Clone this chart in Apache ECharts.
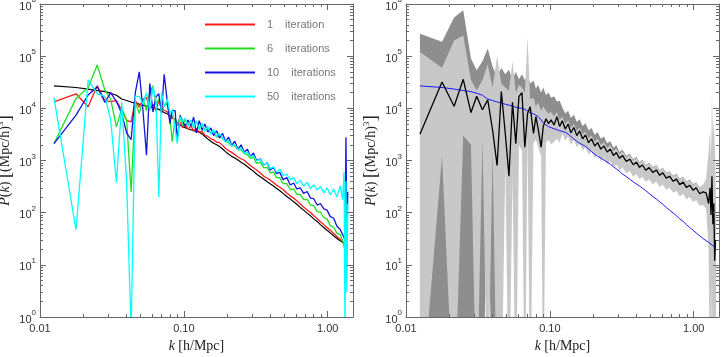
<!DOCTYPE html>
<html>
<head>
<meta charset="utf-8">
<script src="https://cdn.jsdelivr.net/npm/echarts@6/dist/echarts.min.js"></script>
<style>
  html, body { margin: 0; padding: 0; background: #fff; }
  #chart { width: 722px; height: 357px; }
</style>
</head>
<body>
<div id="chart"></div>
<script>
// k bins shared by every curve [h/Mpc]
const kBins = [0.0125, 0.0178, 0.0216, 0.025, 0.0283, 0.031, 0.034, 0.037, 0.040, 0.043,
  0.046, 0.049, 0.052, 0.055, 0.058, 0.061, 0.064, 0.067, 0.070, 0.073,
  0.077, 0.080, 0.083, 0.087, 0.090, 0.094, 0.098, 0.102, 0.107, 0.112,
  0.117, 0.122, 0.128, 0.134, 0.140, 0.147, 0.154, 0.161, 0.169, 0.177,
  0.186, 0.195, 0.205, 0.215, 0.226, 0.238, 0.25, 0.263, 0.277, 0.29,
  0.305, 0.32, 0.34, 0.36, 0.38, 0.40, 0.42, 0.44, 0.465, 0.49,
  0.52, 0.55, 0.58, 0.61, 0.645, 0.68, 0.72, 0.76, 0.80, 0.845,
  0.89, 0.94, 0.99, 1.04, 1.10, 1.16, 1.22, 1.27, 1.30, 1.32,
  1.34, 1.36, 1.38, 1.40, 1.42]

// linear theory P(k) (black on the left, blue on the right)
const linearP = [26900, 25100, 23400, 21900, 20900, 19500, 17800, 15100, 14100, 13200,
  12600, 12000, 11500, 11000, 10500, 10200, 10000, 9550, 8900, 8300,
  7800, 7400, 6900, 6000, 5250, 4800, 4470, 4270, 4070, 3890,
  3720, 3630, 3470, 3240, 2880, 2570, 2340, 2140, 2000, 1860,
  1660, 1480, 1320, 1200, 1120, 1020, 930, 850, 760, 690,
  620, 550, 490, 437, 390, 355, 324, 295, 263, 234,
  204, 182, 162, 145, 126, 112, 98, 87, 76, 68,
  59, 52, 46, 41, 36, 32, 29, 27, 26, 25,
  24, 23.4, 22.4, 21.4, 21]
const leftLinearMaxK = 1.30

const iter1 = [13300, 19000, 10700, 27000, 14000, 13500, 14000, 9300, 5900, 5500,
  14000, 10500, 15000, 16000, 9500, 12000, 9000, 14500, 10000, 9200,
  8500, 6300, 6500, 6300, 4700, 5400, 4300, 5000, 4000, 4600,
  3700, 4100, 3500, 3600, 3050, 2900, 2600, 2500, 2250, 2200,
  1950, 1700, 1550, 1430, 1300, 1170, 1080, 1010, 890, 800,
  725, 660, 575, 500, 458, 420, 380, 340, 308, 278,
  239, 210, 190, 170, 146, 128, 113, 101, 87, 77,
  67, 59, 52, 46, 40, 35, 31, 28, 25, null,
  null, null, null, null, null]

const iter6 = [2100, 15500, 25000, 68000, 22000, 15000, 4400, 10000, 6000, 250,
  13000, 8000, 15000, 9000, 20000, 27000, 12000, 15000, 9000, 11000,
  12500, 7000, 2300, 6500, 4800, 6800, 4600, 6200, 4800, 5900,
  4500, 5600, 4300, 4900, 3800, 4200, 3300, 3500, 2800, 3000,
  2600, 2300, 2200, 1900, 1900, 1600, 1600, 1350, 1300, 1100,
  1150, 880, 930, 720, 740, 580, 600, 470, 470, 360,
  360, 275, 285, 225, 225, 178, 180, 140, 136, 105,
  102, 80, 76, 57, 53, 40, 38, 29, 27, 19,
  13, 11, null, null, null]

const iter10 = [2100, 7400, 18000, 26000, 13000, 20000, 13500, 8000, 3400, 2500,
  20000, 50000, 9000, 1260, 30000, 8500, 16600, 19000, 8100, 45000,
  12300, 5100, 9100, 9000, 2500, 7400, 5800, 4500, 6000, 4600,
  6800, 3400, 5800, 3800, 5000, 3500, 4200, 3000, 3700, 2700,
  3300, 2300, 2800, 1950, 2350, 1650, 2000, 1450, 1650, 1200,
  1400, 1000, 1080, 820, 900, 660, 740, 560, 590, 430,
  470, 340, 370, 285, 300, 235, 255, 190, 185, 140,
  150, 118, 112, 85, 78, 55, 48, 38, 33, 30,
  2800, 40, 250, null, null]

const iter50 = [16000, 47, 35000, 19000, 17000, 6000, 375, 13000, 390, 0.5,
  17000, 17000, 12000, 20000, 9000, 26000, 14000, 200, 20000, 11000,
  15000, 8000, 9500, 4000, 2100, 7000, 5500, 6500, 4500, 6000,
  4200, 5800, 3900, 5200, 3600, 4500, 3200, 3900, 2900, 3300,
  2700, 2300, 2400, 1900, 2050, 1600, 1750, 1400, 1450, 1180,
  1250, 980, 1050, 820, 900, 700, 760, 600, 680, 520,
  540, 430, 470, 360, 420, 320, 380, 290, 340, 270,
  320, 240, 300, 220, 280, 200, 330, 180, 600, 0.5,
  400, 3, 150, null, null]

// right panel: mean reconstruction and the two grey ranges
const meanP = [3200, 32000, 11000, 36000, 8300, 17000, 9400, 14500, 3800, 800,
  21000, 3300, 500, 13000, 2100, 17000, 20000, 1800, 8000, 10700,
  3300, 6900, 4000, 1800, 4500, 6300, 5100, 6000, 4800, 6900,
  4500, 5800, 4000, 5000, 3400, 4300, 3000, 3700, 2600, 3100,
  2200, 2600, 1900, 2200, 1650, 1900, 1450, 1650, 1250, 1420,
  1100, 1250, 960, 1060, 830, 930, 740, 820, 650, 730,
  590, 660, 520, 580, 460, 500, 400, 440, 345, 385,
  305, 335, 270, 300, 230, 250, 240, 150, 300, 90,
  500, 60, 150, 12, 30]

const lightHi = [120000, 60000, 200000, 250000, 35000, 22000, 35000, 70000, 25000, 100000,
  30000, 25000, 22000, 80000, 20000, 28000, 25000, 20000, 230000, 15000,
  16000, 11000, 13000, 9000, 11000, 9000, 8000, 8500, 7000, 8500,
  6000, 7000, 5000, 6000, 4200, 5000, 3700, 4300, 3200, 3600,
  2700, 3000, 2300, 2600, 2000, 2250, 1750, 1950, 1500, 1700,
  1330, 1500, 1170, 1290, 1010, 1130, 900, 1000, 800, 890,
  720, 800, 640, 710, 570, 620, 500, 540, 430, 480,
  380, 420, 340, 380, 300, 330, 450, 1500, 4000, 800,
  20000, 3000, 6000, 2000, 800]

const lightLo = [0.01, 1200, 0.01, 3000, 2000, 0.01, 2500, 0.01, 1500, 0.01,
  0.01, 800, 0.01, 500, 0.01, 2000, 1500, 0.01, 3000, 0.01,
  2200, 2500, 1800, 1200, 0.01, 2200, 2500, 2000, 2300, 2600,
  2200, 3300, 2400, 2900, 2000, 2500, 1800, 2100, 1550, 1800,
  1300, 1500, 1120, 1300, 980, 1120, 860, 970, 740, 840,
  650, 740, 570, 630, 490, 550, 440, 490, 390, 430,
  350, 390, 310, 345, 275, 300, 240, 260, 205, 230,
  180, 200, 160, 175, 135, 140, 120, 20, 0.01, 5,
  0.01, 2, 0.01, 0.5, 0.01]

const darkHi = [270000, 190000, 550000, 760000, 90000, 54000, 80000, 140000, 63000, 40000,
  60000, 45000, 55000, 35000, 50000, 36000, 45000, 35000, 43000, 30000,
  34000, 24000, 28000, 20000, 25000, 18000, 20000, 16000, 17000, 13500,
  14000, 10500, 8000, 9000, 6500, 7500, 5500, 6200, 4600, 5200,
  3800, 4200, 3100, 3500, 2600, 2900, 2150, 2350, 1750, 1950,
  1450, 1600, 1230, 1350, 1060, 1180, 930, 1030, 820, 910,
  740, 820, 660, 730, 580, 630, 510, 560, 440, 490,
  390, 430, 350, 385, 305, 335, 330, 600, 900, 500,
  2500, 800, 1200, 500, 200]

const darkLo = [0.01, 0.01, 0.01, 0.01, 0.01, 0.01, 0.01, 300, 0.01, 0.01,
  500, 1500, 800, 3000, 2000, 4000, 2500, 3000, 6000, 4000,
  4500, 3500, 3000, 2800, 2500, 3000, 3200, 3000, 2900, 3100,
  2700, 4000, 3000, 3500, 2500, 3000, 2200, 2600, 1900, 2200,
  1600, 1850, 1400, 1600, 1200, 1380, 1050, 1200, 900, 1030,
  800, 900, 700, 780, 610, 680, 540, 600, 480, 530,
  430, 480, 380, 420, 340, 365, 290, 320, 250, 280,
  220, 245, 195, 215, 165, 180, 170, 60, 30, 20,
  10, 8, 5, 3, 0.5]

const xMajor = [0.01, 0.1, 1]
const yMajor = [1, 10, 100, 1000, 10000, 100000, 1000000]
const xRange = [0.01, 1.5]
const yRange = [1, 1e6]

const minorTicks = (majors) => {
  const out = []
  for (let i = 0; i < majors.length - 1; i++) {
    for (let m = 2; m <= 9; m++) out.push(+(majors[i] * m).toPrecision(3))
  }
  return out
}
const xMinor = minorTicks(xMajor)
const yMinor = minorTicks(yMajor)

const axisColor = '#666'
const labelColor = '#333'
const sans = 'Liberation Sans'
const serif = 'Liberation Serif'

const nameRich = {
  i: { fontFamily: serif, fontStyle: 'italic', fontSize: 14, color: '#222' },
  r: { fontFamily: serif, fontSize: 14, color: '#222' },
  bk: { fontFamily: serif, fontSize: 19, color: '#222' },
  sp: { fontFamily: serif, fontSize: 9, color: '#222', verticalAlign: 'top', lineHeight: 18 }
}

const makeXAxes = (gridIndex) => {
  const common = {
    type: 'log', logBase: 10, min: xRange[0], max: xRange[1], gridIndex, z: 10,
    splitLine: { show: false }
  }
  const line = { show: true, onZero: false, lineStyle: { color: axisColor, width: 1 } }
  return [
    {
      ...common, position: 'bottom', axisLine: line,
      name: '{i|k} {r|[h/Mpc]}', nameLocation: 'middle', nameGap: 21,
      nameTextStyle: { rich: nameRich },
      axisTick: { inside: true, length: 6, customValues: xMajor, lineStyle: { color: axisColor } },
      axisLabel: {
        customValues: xMajor, margin: 6, color: labelColor, fontFamily: sans, fontSize: 11,
        formatter: (v) => v.toFixed(2)
      }
    },
    {
      ...common, position: 'bottom', axisLine: { show: false },
      axisTick: { inside: true, length: 3, customValues: xMinor, lineStyle: { color: axisColor } },
      axisLabel: { show: false }
    },
    {
      ...common, position: 'top', axisLine: line,
      axisTick: { inside: true, length: 6, customValues: xMajor, lineStyle: { color: axisColor } },
      axisLabel: { show: false }
    },
    {
      ...common, position: 'top', axisLine: { show: false },
      axisTick: { inside: true, length: 3, customValues: xMinor, lineStyle: { color: axisColor } },
      axisLabel: { show: false }
    }
  ]
}

const makeYAxes = (gridIndex) => {
  const common = {
    type: 'log', logBase: 10, min: yRange[0], max: yRange[1], gridIndex, z: 10,
    splitLine: { show: false }
  }
  const line = { show: true, onZero: false, lineStyle: { color: axisColor, width: 1 } }
  return [
    {
      ...common, position: 'left', axisLine: line,
      name: '{i|P}{r|(}{i|k}{r|)} {bk|[}{r|(Mpc/h)}{sp|3}{bk|]}',
      nameLocation: 'middle', nameRotate: 90, nameGap: 25,
      nameTextStyle: { rich: nameRich },
      axisTick: { inside: true, length: 6, customValues: yMajor, lineStyle: { color: axisColor } },
      axisLabel: {
        customValues: yMajor, margin: 4,
        formatter: (v) => '{b|10}{s|' + Math.round(Math.log10(v)) + '}',
        rich: {
          b: { fontFamily: sans, fontSize: 11, color: labelColor, lineHeight: 16, verticalAlign: 'bottom' },
          s: { fontFamily: sans, fontSize: 8, color: labelColor, lineHeight: 16, verticalAlign: 'top' }
        }
      }
    },
    {
      ...common, position: 'left', axisLine: { show: false },
      axisTick: { inside: true, length: 3, customValues: yMinor, lineStyle: { color: axisColor } },
      axisLabel: { show: false }
    },
    {
      ...common, position: 'right', axisLine: line,
      axisTick: { inside: true, length: 6, customValues: yMajor, lineStyle: { color: axisColor } },
      axisLabel: { show: false }
    },
    {
      ...common, position: 'right', axisLine: { show: false },
      axisTick: { inside: true, length: 3, customValues: yMinor, lineStyle: { color: axisColor } },
      axisLabel: { show: false }
    }
  ]
}

const lineSeries = (name, values, color, width, axisIndex) => {
  const data = []
  kBins.forEach((k, i) => {
    if (values[i] != null) data.push([k, values[i]])
  })
  return {
    name, type: 'line', xAxisIndex: axisIndex, yAxisIndex: axisIndex,
    data, symbol: 'none', showSymbol: false, silent: true, clip: true,
    lineStyle: { color, width }, itemStyle: { color }
  }
}

// grey range drawn as one polygon through the axis scales
const bandSeries = (lo, hi, color, axisIndex) => ({
  type: 'custom', xAxisIndex: axisIndex, yAxisIndex: axisIndex, silent: true,
  data: kBins.map((k, i) => [k, lo[i], hi[i]]),
  renderItem: (params, api) => {
    if (params.dataIndex !== 0) return null
    const upper = kBins.map((k, i) => api.coord([k, hi[i]]))
    const lower = kBins.map((k, i) => api.coord([k, lo[i]])).reverse()
    const cs = params.coordSys
    return {
      type: 'polygon',
      shape: { points: upper.concat(lower) },
      style: { fill: color },
      clipPath: { type: 'rect', shape: { x: cs.x, y: cs.y, width: cs.width, height: cs.height } }
    }
  }
})

const leftLinear = linearP.map((v, i) => (kBins[i] <= leftLinearMaxK ? v : null))

const chart = echarts.init(document.getElementById('chart'))
chart.setOption({
  animation: false,
  backgroundColor: '#fff',
  grid: [
    { left: 40, top: 4, width: 313, height: 313, containLabel: false, outerBoundsMode: 'none' },
    { left: 406, top: 4, width: 313, height: 313, containLabel: false, outerBoundsMode: 'none' }
  ],
  xAxis: [...makeXAxes(0), ...makeXAxes(1)],
  yAxis: [...makeYAxes(0), ...makeYAxes(1)],
  legend: {
    data: ['1 iteration', '6 iterations', '10 iterations', '50 iterations'],
    orient: 'vertical', left: 200, top: 14,
    icon: 'rect', itemWidth: 50, itemHeight: 2, itemGap: 13,
    selectedMode: false,
    formatter: (name) => {
      const parts = name.split(' ')
      return '{n|' + parts[0] + '}{w|' + parts[1] + '}'
    },
    textStyle: {
      rich: {
        n: { fontFamily: sans, fontSize: 11, color: '#777', padding: [0, 0, 0, 7] },
        w: { fontFamily: sans, fontSize: 11, color: '#777', padding: [0, 0, 0, 12] }
      }
    }
  },
  series: [
    lineSeries('linear', leftLinear, '#000', 1.2, 0),
    lineSeries('1 iteration', iter1, '#ff1a1a', 1.3, 0),
    lineSeries('6 iterations', iter6, '#1ee01e', 1.3, 0),
    lineSeries('10 iterations', iter10, '#1414dc', 1.3, 0),
    lineSeries('50 iterations', iter50, '#00ffff', 1.3, 0),
    bandSeries(darkLo, darkHi, '#8e8e8e', 4),
    bandSeries(lightLo, lightHi, '#c8c8c8', 4),
    lineSeries('linear right', linearP, '#1a1aff', 1, 4),
    lineSeries('mean', meanP, '#000', 1.3, 4)
  ]
})
</script>
</body>
</html>
